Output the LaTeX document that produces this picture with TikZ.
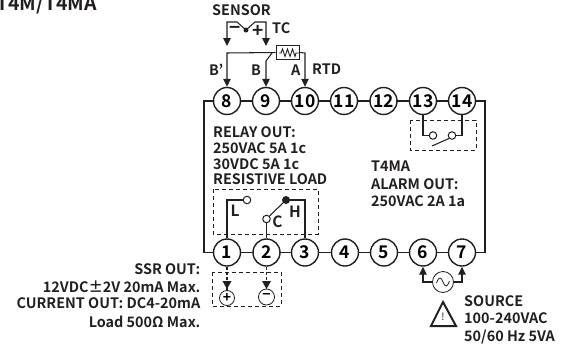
\documentclass[tikz,border=0pt]{standalone}
\usepackage{fontspec}
\setmainfont{Noto Sans CJK KR}[BoldFont={* Bold}]
\usetikzlibrary{arrows.meta}
\definecolor{ink}{HTML}{231F20}
\tikzset{
  term/.style={draw=ink,line width=1.4pt,fill=white,circle,minimum size=27pt,inner sep=0pt,font=\fontsize{17.5}{17.5}\bfseries},
  wire/.style={draw=ink,line width=1.05pt},
  arr/.style={wire,-{Triangle[length=8pt,width=7.5pt]}},
  dbox/.style={draw=ink,line width=1pt,dash pattern=on 4pt off 3pt},
  lab/.style={font=\fontsize{14.4}{14.4}\bfseries,text=ink,inner sep=0pt},
  big/.style={font=\fontsize{15.5}{15.5}\bfseries,text=ink,inner sep=0pt},
  open/.style={draw=ink,line width=1pt,fill=white,circle,minimum size=7.5pt,inner sep=0pt},
}
\begin{document}
\begin{tikzpicture}[x=1pt,y=-1pt]
\useasboundingbox (0,0) rectangle (566,346);
\clip (0,0) rectangle (566,346);
\node[anchor=base west,inner sep=0pt,font=\fontsize{19.5}{19.5}\bfseries,text=ink] (title) at (-4,10) {T4M/T4MA};
% frame
\coordinate (ftl) at (204,101); \coordinate (fbl) at (204,252.5);
\coordinate (ftr) at (485,101); \coordinate (fbr) at (485,252.5);
\draw[wire,line width=1.1pt] (ftl) -- (fbl) -- (fbr) -- (ftr) -- cycle;
% terminals
\foreach \n/\x in {8/227,9/266,10/305,11/344,12/383.5,13/423,14/462}
  \node[term] (t\n) at (\x,101) {\n};
\foreach \n/\x in {1/227,2/266.5,3/305,4/345,5/384,6/423,7/462}
  \node[term] (t\n) at (\x,252.5) {\n};
% sensor
\coordinate (s1) at (227,22); \coordinate (s2) at (237,22); \coordinate (s3) at (255,22); \coordinate (s4) at (266,22);
\coordinate (sa) at (227,46); \coordinate (sb) at (266,46);
\node[fill=ink,circle,minimum size=5pt,inner sep=0pt] (sd) at (246,30) {};
\draw[arr] (sd.center) -- (s2) -- (s1) -- (sa);
\draw[arr] (sd.center) -- (s3) -- (s4) -- (sb);
\node[font=\fontsize{19}{19}\bfseries,text=ink,inner sep=0pt] (minus) at (235,30.5) {−};
\node[font=\fontsize{19}{19}\bfseries,text=ink,inner sep=0pt] (plus) at (258,31) {+};
\node[lab,anchor=base] (sensor) at (241.5,15) {SENSOR};
\node[lab,anchor=base west] (tc) at (272,33) {TC};
% RTD
\node[draw=ink,line width=1pt,minimum width=23pt,minimum height=14.5pt,inner sep=0pt] (res) at (287.5,52.5) {};
\draw[draw=ink,line width=.9pt] (279,53) -- (281,53) -- (282.5,49) -- (285,56.5) -- (287.5,49) -- (290,56.5) -- (292.5,49) -- (295,56.5) -- (296,53) -- (299,53);
\coordinate (rl) at (227,53); \coordinate (rr) at (305,53);\coordinate (rb) at (266,61);
\draw[arr] (res.west) -- (rl) -- (t8.north);
\draw[arr] (res.east) -- (rr) -- (t10.north);
\draw[arr] (272,53) -- (rb) -- (t9.north);
\node[lab,anchor=base west] (bp) at (209,75) {B'};
\node[lab,anchor=base west] (bb) at (251,75) {B};
\node[lab,anchor=base west] (aa) at (291,75) {A};
\node[lab,anchor=base west] (rtd) at (312,74) {RTD};
% relay text
\node[lab,anchor=base west] (r1) at (213,137) {RELAY OUT:};
\node[lab,anchor=base west] (r2) at (213,153.5) {250VAC 5A 1c};
\node[lab,anchor=base west] (r3) at (213,169) {30VDC 5A 1c};
\node[lab,anchor=base west] (r4) at (213,184.5) {RESISTIVE LOAD};
\node[lab,anchor=base west] (a1) at (371,171) {T4MA};
\node[lab,anchor=base west] (a2) at (371,189) {ALARM OUT:};
\node[lab,anchor=base west] (a3) at (371,206) {250VAC 2A 1a};
% relay box
\draw[dbox] (213,189) rectangle (318,234);
\node[open] (ol) at (247,200) {};
\node[open] (oc) at (266.5,219) {};
\node[fill=ink,circle,minimum size=8pt,inner sep=0pt] (oh) at (286,200) {};
\coordinate (c1) at (227,200); \coordinate (c3) at (305,200);
\draw[wire] (t1.north) -- (c1) -- (ol.west);
\draw[wire] (t2.north) -- (oc.south);
\draw[wire] (oc.north east) -- (oh.center);
\draw[wire] (oh.center) -- (c3) -- (t3.north);
\node[big] (ll) at (235,211) {L};
\node[big] (cc) at (277.5,222) {C};
\node[big] (hh) at (295,212) {H};
% alarm box
\draw[dbox] (410,120) rectangle (476,150);
\node[open] (o13) at (433,135.5) {};
\node[open] (o14) at (452,135.5) {};
\coordinate (c13) at (423,135.5); \coordinate (c14) at (462,135.5);
\draw[wire] (t13.south) -- (c13) -- (o13.west);
\draw[wire] (t14.south) -- (c14) -- (o14.east);
\coordinate (sw) at (432,146);
\draw[wire] (sw) -- (o14.south west);
% ssr box
\draw[dbox] (212,272) rectangle (281,306);
\node[draw=ink,line width=.8pt,circle,minimum size=15pt,inner sep=0pt,font=\fontsize{14}{14}\bfseries] (pl) at (227,298) {+};
\node[draw=ink,line width=.8pt,circle,minimum size=16pt,inner sep=0pt,font=\fontsize{14}{14}\bfseries] (mi) at (266.5,297) {−};
\draw[wire,dash pattern=on 3pt off 2pt] (t1.south) -- (pl.north);
\draw[wire,dash pattern=on 3pt off 2pt] (t2.south) -- (mi.north);
\fill[ink] (222.5,281) -- (231.5,281) -- (227,289) -- cycle;
\fill[ink] (262,281) -- (271,281) -- (266.5,289) -- cycle;
\node[lab,anchor=base east] (l1) at (200.5,274) {SSR OUT:};
\node[lab,anchor=base east] (l2) at (200.5,292) {12VDC±2V 20mA Max.};
\node[lab,anchor=base east] (l3) at (200.5,308.5) {CURRENT OUT: DC4-20mA};
\node[lab,anchor=base east] (l4) at (200.5,327) {Load 500Ω Max.};
% source
\node[draw=ink,line width=.8pt,fill=white,circle,minimum size=21pt,inner sep=0pt] (ac) at (443,282) {};
\draw[draw=ink,line width=.8pt] (436.5,283) .. controls (439,276) and (441,277) .. (443,282) .. controls (445,287) and (447,288) .. (449.5,281);
\coordinate (ps) at (423,282); \coordinate (pt) at (462,282);
\draw[arr] (ac.west) -- (ps) -- (t6.south);
\draw[arr] (ac.east) -- (pt) -- (t7.south);
\draw[draw=ink,line width=2pt,line join=miter] (443,302) -- (456,326) -- (431,326) -- cycle;
\node[inner sep=0pt,font=\fontsize{11}{11},text=ink] (ex) at (443,316.5) {!};
\node[lab,anchor=base west] (p1) at (464,306) {SOURCE};
\node[lab,anchor=base west] (p2) at (464,323.5) {100-240VAC};
\node[lab,anchor=base west] (p3) at (464,341.5) {50/60 Hz 5VA};
\end{tikzpicture}
\end{document}
